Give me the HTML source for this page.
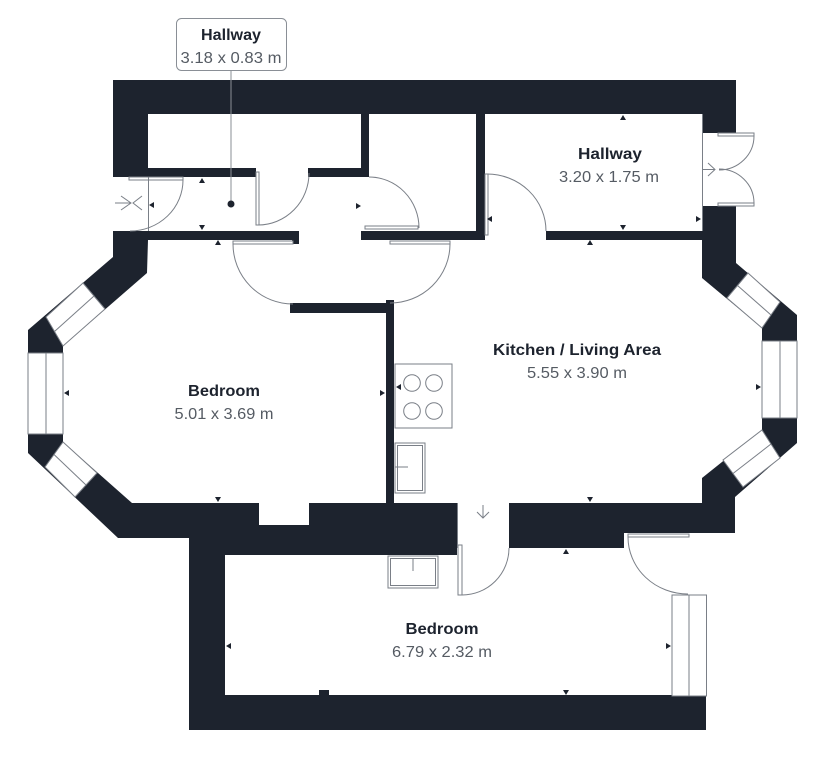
<!DOCTYPE html>
<html>
<head>
<meta charset="utf-8">
<style>
html,body{margin:0;padding:0;background:#fff;}
svg{display:block;}
.t{font-family:"Liberation Sans",sans-serif;font-weight:bold;font-size:16px;fill:#1d232e;}
.d{font-family:"Liberation Sans",sans-serif;font-size:16px;fill:#555b63;}
.g{fill:none;stroke:#7a7f87;stroke-width:1;}
.gw{fill:#fff;stroke:#7a7f87;stroke-width:1;}
.m{fill:#1d232e;}
</style>
</head>
<body>
<svg width="823" height="768" viewBox="0 0 823 768" xmlns="http://www.w3.org/2000/svg">
<!-- building envelope -->
<polygon fill="#1d232e" points="113,80 736,80 736,263 797,315 797,443 735,497 735,533 706,533 706,730 189,730 189,538 118,538 28,453 28,330 113,257"/>

<!-- white interiors -->
<g fill="#fff">
  <rect x="148" y="114" width="213" height="54"/>
  <rect x="369" y="114" width="107" height="117"/>
  <rect x="148" y="177" width="221" height="54"/>
  <rect x="113" y="177" width="35" height="54"/>
  <rect x="256" y="168" width="52" height="9"/>
  <rect x="485" y="114" width="217" height="117"/>
  <rect x="702" y="133" width="34" height="73"/>
  <rect x="485" y="230" width="61" height="10"/>
  <rect x="299" y="230" width="62" height="10"/>
  <polygon points="148,240 702,240 702,278 762,328 762,430 702,478 702,503 132,503 63,442 63,346 147,273"/>
  <rect x="259" y="503" width="50" height="22"/>
  <polygon points="225,555 457,555 457,503 509,503 509,548 624,548 624,533 706,533 706,695 225,695"/>
</g>

<!-- partition walls -->
<g fill="#1d232e">
  <rect x="290" y="303" width="104" height="10"/>
  <rect x="386" y="300" width="8" height="203"/>
  <rect x="292" y="238" width="7" height="6"/>
  <rect x="319" y="690" width="10" height="6"/>
</g>

<!-- windows -->
<polygon class="gw" points="83,283 105,309 63,346 46,317"/>
<line class="g" x1="94" y1="296" x2="54.5" y2="331.5"/>
<rect class="gw" x="28" y="353" width="35" height="81"/>
<line class="g" x1="46" y1="353" x2="46" y2="434"/>
<polygon class="gw" points="63,442 45,467 75,497 97,473"/>
<line class="g" x1="54" y1="454.5" x2="86" y2="485"/>
<polygon class="gw" points="748,273 780,302 762,328 727,298"/>
<line class="g" x1="737.5" y1="285.5" x2="771" y2="315"/>
<rect class="gw" x="762" y="341" width="35" height="77"/>
<line class="g" x1="780" y1="341" x2="780" y2="418"/>
<polygon class="gw" points="762,430 780,458 743,487 723,460"/>
<line class="g" x1="771" y1="444" x2="733" y2="473.5"/>
<rect class="gw" x="672" y="595" width="34.5" height="101"/>
<line class="g" x1="689" y1="595" x2="689" y2="696"/>

<!-- doors -->
<!-- left entrance -->
<rect class="gw" x="129" y="177" width="54" height="3"/>
<line class="g" x1="148.5" y1="177" x2="148.5" y2="231"/>
<path class="g" d="M183,180 A53,51 0 0 1 130,231"/>
<path class="g" d="M115,203 L131,203 M121,196 L131,203 L121,210 M142,196 L133,203 L142,210"/>
<!-- cupboard door -->
<rect class="gw" x="256" y="172" width="3" height="53"/>
<path class="g" d="M258,225 A51,52 0 0 0 309,173"/>
<!-- closet door -->
<rect class="gw" x="365" y="226" width="53" height="3"/>
<path class="g" d="M369,177 A50,51 0 0 1 419,228"/>
<!-- bedroom door -->
<rect class="gw" x="233" y="241" width="60" height="3"/>
<path class="g" d="M233,244 A60,60 0 0 0 293,304"/>
<!-- kitchen door -->
<rect class="gw" x="390" y="241" width="60" height="3"/>
<path class="g" d="M450,244 A60,59 0 0 1 390,303"/>
<!-- right hallway door -->
<rect class="gw" x="485" y="174" width="3" height="61"/>
<path class="g" d="M487,174 A59,57 0 0 1 546,231"/>
<!-- french doors -->
<line class="g" x1="702.5" y1="114" x2="702.5" y2="231"/>
<rect class="gw" x="718" y="133" width="36" height="3"/>
<rect class="gw" x="718" y="203" width="36" height="3"/>
<path class="g" d="M754,136 A35,34 0 0 1 719,170"/>
<path class="g" d="M754,203 A35,34 0 0 0 719,169"/>
<path class="g" d="M703,169.5 L715,169.5 M708,163 L715,169.5 L708,176"/>
<!-- lower door kitchen->bedroom -->
<line class="g" x1="457.5" y1="503" x2="457.5" y2="548"/>
<rect class="gw" x="458" y="545" width="4" height="50"/>
<path class="g" d="M462,595 A47,47 0 0 0 509,548"/>
<path class="g" d="M483,505 L483,518 M477,512 L483,518 L489,512"/>
<!-- lower right door -->
<rect class="gw" x="628" y="534" width="61" height="3"/>
<path class="g" d="M628,537 A60,57 0 0 0 688,594"/>

<!-- kitchen fittings -->
<rect class="gw" x="395" y="364" width="57" height="64"/>
<circle class="g" cx="412" cy="383" r="8.3"/>
<circle class="g" cx="434" cy="383" r="8.3"/>
<circle class="g" cx="412" cy="411" r="8.3"/>
<circle class="g" cx="434" cy="411" r="8.3"/>
<rect class="gw" x="395" y="443" width="30" height="50"/>
<rect class="g" x="397.5" y="445.5" width="25" height="45"/>
<line class="g" x1="395" y1="467" x2="408" y2="467"/>
<rect class="gw" x="388" y="556" width="50" height="32"/>
<rect class="g" x="390.5" y="558.5" width="45" height="27"/>
<line class="g" x1="413" y1="558" x2="413" y2="571"/>

<!-- markers -->
<g class="m">
  <polygon points="202,178 199,183 205,183"/>
  <polygon points="202,230 199,225 205,225"/>
  <polygon points="149,205 154,202 154,208"/>
  <polygon points="361,206 356,203 356,209"/>
  <polygon points="218,240 215,245 221,245"/>
  <polygon points="487,219 492,216 492,222"/>
  <polygon points="623,115 620,120 626,120"/>
  <polygon points="623,230 620,225 626,225"/>
  <polygon points="701,219 696,216 696,222"/>
  <polygon points="590,240 587,245 593,245"/>
  <polygon points="590,502 587,497 593,497"/>
  <polygon points="396,387 401,384 401,390"/>
  <polygon points="761,387 756,384 756,390"/>
  <polygon points="64,393 69,390 69,396"/>
  <polygon points="385,393 380,390 380,396"/>
  <polygon points="218,502 215,497 221,497"/>
  <polygon points="566,549 563,554 569,554"/>
  <polygon points="566,695 563,690 569,690"/>
  <polygon points="226,646 231,643 231,649"/>
  <polygon points="671,646 666,643 666,649"/>
</g>

<!-- hallway callout -->
<line x1="231" y1="71" x2="231" y2="204" stroke="#8a8f96" stroke-width="1"/>
<circle cx="231" cy="204" r="3.5" fill="#1d232e"/>
<rect x="176.5" y="18.5" width="110" height="52" rx="5" ry="5" fill="#fff" stroke="#8a8f96" stroke-width="1"/>
<text class="t" x="231" y="40" text-anchor="middle" textLength="60" lengthAdjust="spacingAndGlyphs">Hallway</text>
<text class="d" x="231" y="63" text-anchor="middle" textLength="101" lengthAdjust="spacingAndGlyphs">3.18 x 0.83 m</text>

<!-- room labels -->
<text class="t" x="610" y="159" text-anchor="middle" textLength="64" lengthAdjust="spacingAndGlyphs">Hallway</text>
<text class="d" x="609" y="182" text-anchor="middle" textLength="100" lengthAdjust="spacingAndGlyphs">3.20 x 1.75 m</text>

<text class="t" x="577" y="355" text-anchor="middle" textLength="168" lengthAdjust="spacingAndGlyphs">Kitchen / Living Area</text>
<text class="d" x="577" y="378" text-anchor="middle" textLength="100" lengthAdjust="spacingAndGlyphs">5.55 x 3.90 m</text>

<text class="t" x="224" y="396" text-anchor="middle" textLength="72" lengthAdjust="spacingAndGlyphs">Bedroom</text>
<text class="d" x="224" y="419" text-anchor="middle" textLength="99" lengthAdjust="spacingAndGlyphs">5.01 x 3.69 m</text>

<text class="t" x="442" y="634" text-anchor="middle" textLength="73" lengthAdjust="spacingAndGlyphs">Bedroom</text>
<text class="d" x="442" y="657" text-anchor="middle" textLength="100" lengthAdjust="spacingAndGlyphs">6.79 x 2.32 m</text>
</svg>
</body>
</html>
